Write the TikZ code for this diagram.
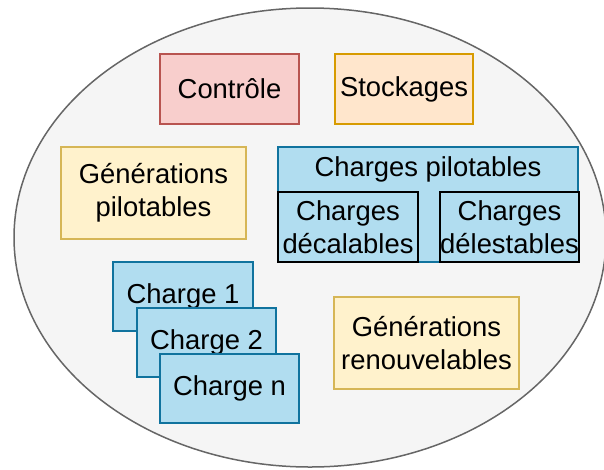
\documentclass[tikz,border=0pt]{standalone}
\usepackage{fontspec}
\setmainfont{Liberation Sans}
\definecolor{ellfill}{HTML}{F5F5F5}
\definecolor{elldraw}{HTML}{666666}
\definecolor{redfill}{HTML}{F8CECC}
\definecolor{reddraw}{HTML}{B85450}
\definecolor{orfill}{HTML}{FFE6CC}
\definecolor{ordraw}{HTML}{D79B00}
\definecolor{yefill}{HTML}{FFF2CC}
\definecolor{yedraw}{HTML}{D6B656}
\definecolor{blfill}{HTML}{B1DDF0}
\definecolor{bldraw}{HTML}{10739E}
\begin{document}
\begin{tikzpicture}[x=1pt,y=-1pt,
  every node/.style={font=\fontsize{27.4}{33}\selectfont, align=center, inner sep=0pt},
  box/.style={draw, rectangle, line width=1.5pt},
  redbox/.style={box, draw=reddraw, fill=redfill},
  orbox/.style={box, draw=ordraw, fill=orfill},
  yebox/.style={box, draw=yedraw, fill=yefill},
  blbox/.style={box, draw=bldraw, fill=blfill},
  inbox/.style={box, draw=black, fill=blfill}]
\useasboundingbox (0,0) rectangle (604,469);
\begin{scope}
\clip (0,0) rectangle (604,469);
\draw[fill=ellfill, draw=elldraw, line width=1.5pt] (310,237.5) ellipse [x radius=296, y radius=229.5];
\end{scope}
\node[redbox, minimum width=139pt, minimum height=70pt] (ctrl) at (229.5,89) {Contrôle};
\node[orbox, minimum width=138pt, minimum height=70pt] (stock) at (404,89) {Stockages};
\node[yebox, minimum width=185pt, minimum height=92pt] (genpil) at (153.5,193) {Générations\\pilotables};
\node[blbox, minimum width=300pt, minimum height=115pt] (chpil) at (428,204.5) {};
\node (chpiltxt) at (428,169.5) {Charges pilotables};
\node[inbox, minimum width=140pt, minimum height=70pt] (chdec) at (348,227) {Charges\\décalables};
\node[inbox, minimum width=137pt, minimum height=70pt] (chdel) at (509.5,227) {Charges\\délestables};
\node[blbox, minimum width=140pt, minimum height=69pt] (ch1) at (183,296.5) {Charge 1};
\node[blbox, minimum width=139pt, minimum height=69pt] (ch2) at (206.5,342.5) {Charge 2};
\node[blbox, minimum width=139pt, minimum height=69pt] (chn) at (229.5,388.5) {Charge n};
\node[yebox, minimum width=185pt, minimum height=92pt] (genren) at (426.5,343) {Générations\\renouvelables};
\end{tikzpicture}
\end{document}
